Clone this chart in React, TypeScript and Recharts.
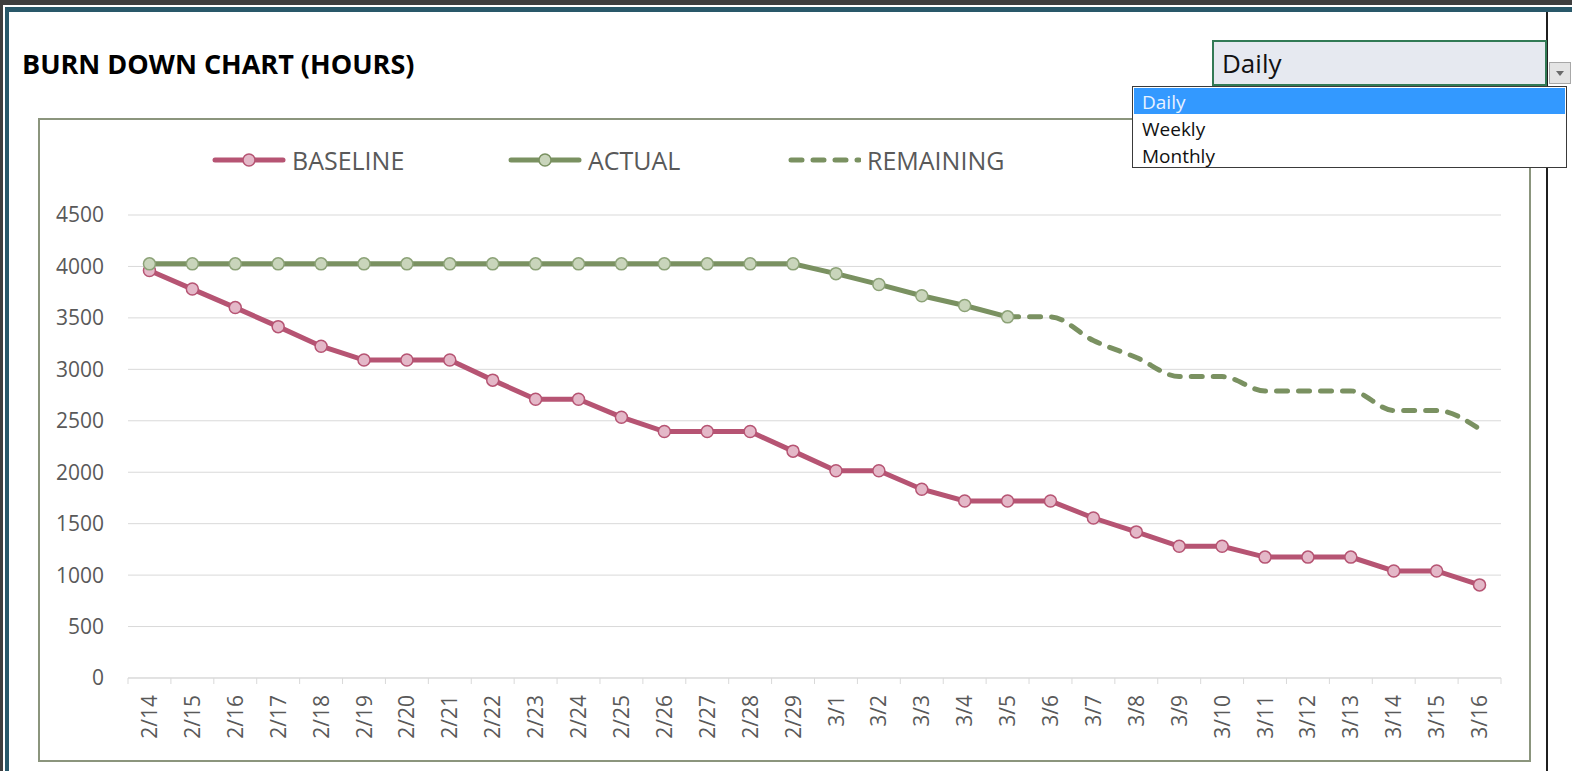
import { CartesianGrid, Legend, Line, LineChart, XAxis, YAxis } from 'recharts';

const dates = [
    '2/14', '2/15', '2/16', '2/17', '2/18', '2/19', '2/20', '2/21', '2/22', '2/23', '2/24',
    '2/25', '2/26', '2/27', '2/28', '2/29', '3/1', '3/2', '3/3', '3/4', '3/5', '3/6',
    '3/7', '3/8', '3/9', '3/10', '3/11', '3/12', '3/13', '3/14', '3/15', '3/16',
];

const baseline = [
    3960, 3780, 3600, 3415, 3225, 3090, 3090, 3090, 2895, 2710, 2710,
    2535, 2395, 2395, 2395, 2205, 2015, 2015, 1835, 1720, 1720, 1720,
    1555, 1420, 1280, 1280, 1175, 1175, 1175, 1040, 1040, 905,
];

// actual stops at 3/5, remaining picks up from there
const actual = [
    4025, 4025, 4025, 4025, 4025, 4025, 4025, 4025, 4025, 4025, 4025,
    4025, 4025, 4025, 4025, 4025, 3930, 3825, 3715, 3620, 3510,
];

const remaining = [
    null, null, null, null, null, null, null, null, null, null, null,
    null, null, null, null, null, null, null, null, null, 3510, 3510,
    3280, 3115, 2930, 2930, 2790, 2790, 2790, 2600, 2600, 2420,
];

const yTicks = [0, 500, 1000, 1500, 2000, 2500, 3000, 3500, 4000, 4500];

const legendItems = [
    { name: 'BASELINE', color: '#b65473', dotFill: '#e4b8c8', dashed: false, x: 172 },
    { name: 'ACTUAL', color: '#7a9161', dotFill: '#c9d5bb', dashed: false, x: 468 },
    { name: 'REMAINING', color: '#7a9161', dotFill: '', dashed: true, x: 747 },
];

const data = dates.map((d, i) => ({
    date: d,
    baseline: baseline[i],
    actual: i < actual.length ? actual[i] : null,
    remaining: remaining[i],
}));

const FONT = '"Open Sans", "Noto Sans", sans-serif';
const CHART_W = 1489;
const CHART_H = 640;
const PLOT_W = 1373;
const HALF = PLOT_W / dates.length / 2;

function DateTick(props: any) {
    const { x, y, payload, index } = props;
    return (
        <g>
            {index === 0 && <line x1={x - HALF} x2={x - HALF} y1={y} y2={y + 6} stroke="#d9d9d9" />}
            <line x1={x + HALF} x2={x + HALF} y1={y} y2={y + 6} stroke="#d9d9d9" />
            <text
                transform={`translate(${x}, ${y + 17}) rotate(-90)`}
                textAnchor="end"
                dy="0.36em"
                fill="#595959"
                fontSize={21}
                fontFamily={FONT}
            >
                {payload.value}
            </text>
        </g>
    );
}

function BurnLegend() {
    return (
        <div style={{ position: 'relative', width: CHART_W, height: 95 }}>
            {legendItems.map((it) => (
                <div key={it.name} style={{ position: 'absolute', left: it.x, top: 24, height: 32, display: 'flex', alignItems: 'center' }}>
                    <svg width={74} height={20}>
                        {it.dashed ? (
                            <line x1={4} x2={72} y1={10} y2={10} stroke={it.color} strokeWidth={5} strokeDasharray="11 11" strokeLinecap="round" />
                        ) : (
                            <>
                                <line x1={3} x2={71} y1={10} y2={10} stroke={it.color} strokeWidth={5} strokeLinecap="round" />
                                <circle cx={37} cy={10} r={6} fill={it.dotFill} stroke={it.color} strokeWidth={1.5} />
                            </>
                        )}
                    </svg>
                    <span style={{ marginLeft: 6, fontSize: 25, color: '#595959', fontFamily: FONT, lineHeight: '32px' }}>{it.name}</span>
                </div>
            ))}
        </div>
    );
}

export default function App() {
    return (
        <div style={{ position: 'fixed', left: 0, top: 0, width: 1572, height: 771, background: '#3e3e3e', overflow: 'hidden', fontFamily: FONT }}>
            <div style={{ position: 'absolute', left: 3, top: 5, right: 0, bottom: 0, background: '#ffffff' }} />
            <div style={{ position: 'absolute', left: 5, top: 7, right: 0, bottom: 0, background: '#ffffff', borderTop: '5px solid #295869', borderLeft: '4px solid #295869' }} />
            <div style={{ position: 'absolute', left: 1546, top: 12, width: 2, bottom: 0, background: '#1f1f1f' }} />

            <div style={{ position: 'absolute', left: 22, top: 46, fontSize: 27, fontWeight: 700, color: '#000', whiteSpace: 'nowrap', lineHeight: '36px' }}>
                BURN DOWN CHART (HOURS)
            </div>

            {/* selector cell */}
            <div style={{ position: 'absolute', left: 1212, top: 40, width: 331, height: 42, background: '#e6e9f0', border: '2px solid #327a55' }}>
                <span style={{ position: 'absolute', left: 8, top: 4, fontSize: 26, color: '#111', lineHeight: '34px' }}>Daily</span>
            </div>
            <div style={{ position: 'absolute', left: 1549, top: 62, width: 20, height: 20, background: '#e4e4e4', border: '1px solid #a8a8a8' }}>
                <svg width={20} height={20}>
                    <polygon points="6,8 14,8 10,13" fill="#6b6b6b" />
                </svg>
            </div>

            <div style={{ position: 'absolute', left: 38, top: 118, width: CHART_W, height: CHART_H, border: '2px solid #8b957d', background: '#fff' }}>
                <LineChart width={CHART_W} height={CHART_H} data={data} margin={{ top: 0, right: 28, bottom: 0, left: 0 }}>
                    <CartesianGrid vertical={false} stroke="#d9d9d9" />
                    <XAxis
                        dataKey="date"
                        height={82}
                        padding={{ left: HALF, right: HALF }}
                        interval={0}
                        tickLine={false}
                        tickSize={0}
                        tickMargin={0}
                        axisLine={{ stroke: '#d9d9d9' }}
                        tick={<DateTick />}
                    />
                    <YAxis
                        width={88}
                        domain={[0, 4500]}
                        ticks={yTicks}
                        interval={0}
                        axisLine={false}
                        tickLine={false}
                        tickSize={0}
                        tickMargin={24}
                        tick={{ fill: '#595959', fontSize: 21, fontFamily: FONT }}
                    />
                    <Legend
                        verticalAlign="top"
                        content={<BurnLegend />}
                        wrapperStyle={{ left: 0, top: 0, width: CHART_W, height: 95 }}
                    />
                    <Line
                        type="linear"
                        dataKey="baseline"
                        stroke="#b65473"
                        strokeWidth={5}
                        dot={{ r: 6, fill: '#e4b8c8', stroke: '#b65473', strokeWidth: 1.5 }}
                        activeDot={false}
                        isAnimationActive={false}
                    />
                    <Line
                        type="linear"
                        dataKey="actual"
                        stroke="#7a9161"
                        strokeWidth={5}
                        dot={{ r: 6, fill: '#c9d5bb', stroke: '#8ca277', strokeWidth: 1.5 }}
                        activeDot={false}
                        isAnimationActive={false}
                    />
                    <Line
                        type="monotone"
                        dataKey="remaining"
                        stroke="#7a9161"
                        strokeWidth={5}
                        strokeDasharray="11 11"
                        strokeLinecap="round"
                        dot={false}
                        activeDot={false}
                        isAnimationActive={false}
                    />
                </LineChart>
            </div>

            {/* open dropdown list */}
            <div style={{ position: 'absolute', left: 1132, top: 86, width: 433, height: 80, border: '1px solid #3a3a3a', background: '#fff', zIndex: 5 }}>
                <div style={{ position: 'absolute', left: 1, top: 1, right: 1, height: 26, background: '#3399ff' }} />
                {['Daily', 'Weekly', 'Monthly'].map((t, i) => (
                    <div key={t} style={{ position: 'absolute', left: 9, top: 2 + i * 27, fontSize: 19, lineHeight: '26px', color: i === 0 ? '#e9f2ff' : '#111' }}>
                        {t}
                    </div>
                ))}
            </div>
        </div>
    );
}
